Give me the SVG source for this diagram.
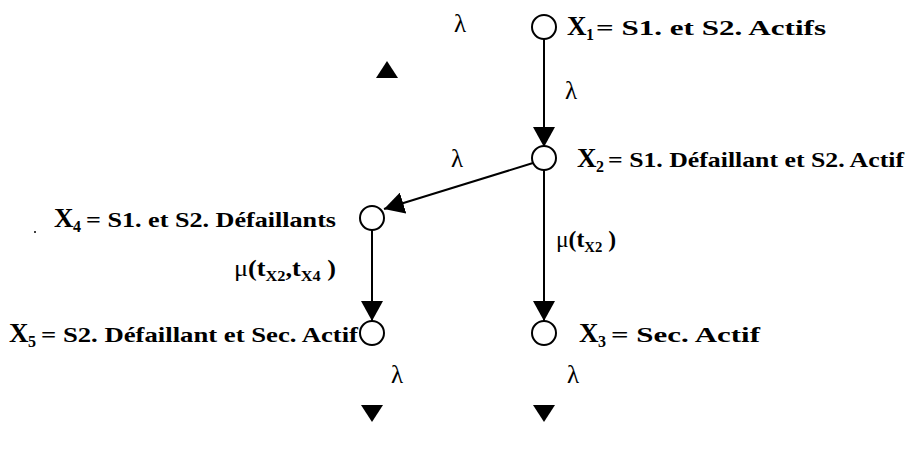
<svg xmlns="http://www.w3.org/2000/svg" width="916" height="456" viewBox="0 0 916 456">
<style>
.node{fill:#fff;stroke:#000;stroke-width:2}
.conn{stroke:#000;stroke-width:2;fill:none}
.X{font-family:"Liberation Serif",serif;font-weight:bold;font-size:27px;fill:#000}
.sub{font-family:"Liberation Serif",serif;font-weight:bold;font-size:16px;fill:#000}
.lab{font-family:"Liberation Serif",serif;font-weight:bold;font-size:21px;fill:#000}
.lam{font-family:"Liberation Serif",serif;font-size:25px;fill:#000}
.mu{font-family:"Liberation Serif",serif;font-weight:bold;font-size:24px;fill:#000}
.mug{font-weight:normal}
.mus{font-family:"Liberation Serif",serif;font-weight:bold;font-size:15px;fill:#000}
.tri{fill:#000}
</style>
<defs>
<marker id="arr" markerUnits="userSpaceOnUse" markerWidth="20" markerHeight="22" refX="20" refY="11" orient="auto" viewBox="0 0 20 22">
<path d="M0,0 L20,11 L0,22 z" fill="#000"/>
</marker>
</defs>
<rect width="916" height="456" fill="#fff"/>
<g id="connectors">
<line class="conn" x1="544" y1="39" x2="544" y2="147" marker-end="url(#arr)"/>
<line class="conn" x1="533" y1="163" x2="384" y2="209" marker-end="url(#arr)"/>
<line class="conn" x1="544" y1="170" x2="544" y2="321" marker-end="url(#arr)"/>
<line class="conn" x1="372" y1="230" x2="372" y2="321" marker-end="url(#arr)"/>
<text class="lam" x="565" y="99">λ</text>
<text class="lam" x="451" y="167">λ</text>
<text class="mu" x="556" y="247" textLength="60" lengthAdjust="spacingAndGlyphs"><tspan class="mug">μ</tspan>(t<tspan class="mus" dy="5">X2</tspan><tspan dy="-5"> )</tspan></text>
<text class="mu" x="234" y="276" textLength="102" lengthAdjust="spacingAndGlyphs"><tspan class="mug">μ</tspan>(t<tspan class="mus" dy="5">X2</tspan><tspan dy="-5">,t</tspan><tspan class="mus" dy="5">X4</tspan><tspan dy="-5"> )</tspan></text>
</g>
<g id="n1">
<circle class="node" cx="544" cy="27" r="12"/>
<text class="X" x="567" y="35">X</text>
<text class="sub" x="586" y="40">1</text>
<text class="lab" x="596" y="35" textLength="230" lengthAdjust="spacingAndGlyphs">= S1. et S2. Actifs</text>
</g>
<g id="n2">
<circle class="node" cx="544" cy="158" r="12"/>
<text class="X" x="577" y="167">X</text>
<text class="sub" x="596" y="172">2</text>
<text class="lab" x="608" y="167" textLength="296" lengthAdjust="spacingAndGlyphs">= S1. Défaillant et S2. Actif</text>
</g>
<g id="n4">
<circle class="node" cx="372" cy="218" r="12"/>
<text class="X" x="54" y="227">X</text>
<text class="sub" x="73" y="232">4</text>
<text class="lab" x="86" y="227" textLength="250" lengthAdjust="spacingAndGlyphs">= S1. et S2. Défaillants</text>
</g>
<g id="n5">
<circle class="node" cx="372" cy="333" r="12"/>
<text class="X" x="9" y="342">X</text>
<text class="sub" x="28" y="347">5</text>
<text class="lab" x="41" y="342" textLength="317" lengthAdjust="spacingAndGlyphs">= S2. Défaillant et Sec. Actif</text>
</g>
<g id="n3">
<circle class="node" cx="544" cy="333" r="12"/>
<text class="X" x="579" y="342">X</text>
<text class="sub" x="598" y="347">3</text>
<text class="lab" x="611" y="342" textLength="149" lengthAdjust="spacingAndGlyphs">= Sec. Actif</text>
</g>
<g id="extras">
<text class="lam" x="454" y="32">λ</text>
<polygon class="tri" points="387,61 398,78 376,78"/>
<text class="lam" x="391" y="383">λ</text>
<text class="lam" x="567" y="383">λ</text>
<polygon class="tri" points="361,405 383,405 372,422"/>
<polygon class="tri" points="533,405 555,405 544,422"/>
<circle cx="35" cy="232" r="1" fill="#000"/>
</g>
</svg>
